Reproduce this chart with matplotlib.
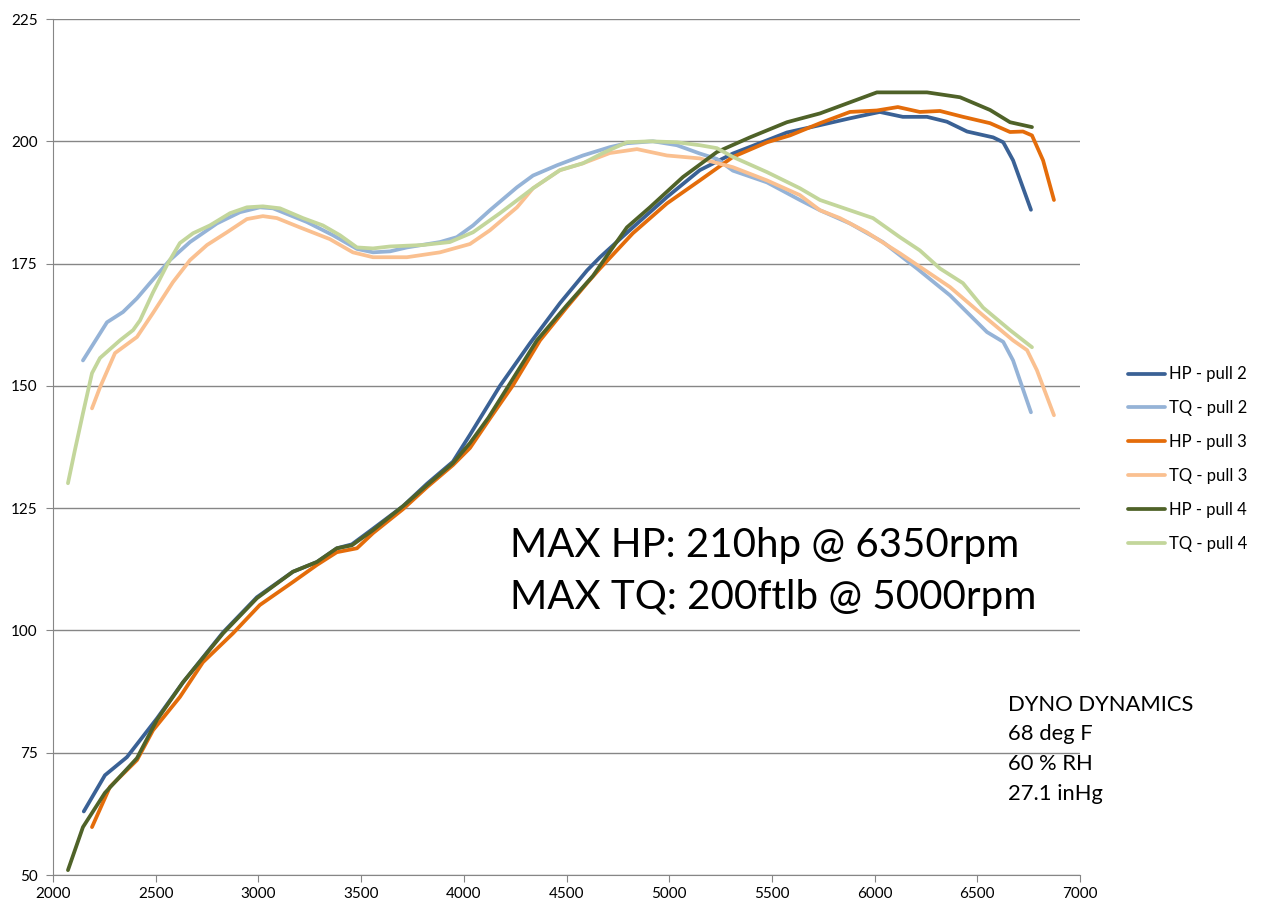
import numpy as np
import matplotlib.pyplot as plt

# =====================
# data

hp2_rpm = [2150, 2253, 2360, 2506, 2633, 2828, 2993, 3168, 3285, 3382, 3455, 3558, 3704, 3821,
           3947, 4030, 4176, 4322, 4468, 4600, 4663, 4823, 4989, 5149, 5310, 5476, 5573, 5734, 5880,
           6025, 6137, 6255, 6352, 6450, 6577, 6626, 6674, 6761]
hp2_val = [63, 70.4, 74.1, 82, 89.4, 99.6, 106.8, 112, 114, 116.8, 117.6, 120.8, 125.4, 130,
           134.5, 140, 150, 158.7, 166.9, 173.6, 176.3, 182.4, 188.6, 194.1, 197.5, 200.2, 201.8, 203.3, 204.7,
           206, 205, 205, 204, 202, 200.8, 199.8, 196.1, 186]

tq2_rpm = [2146, 2263, 2341, 2409, 2472, 2569, 2667, 2798, 2910, 3007, 3071, 3236, 3363, 3480,
           3558, 3641, 3723, 3884, 3966, 4045, 4127, 4259, 4337, 4454, 4580, 4711, 4794, 4921,
           5037, 5149, 5232, 5310, 5476, 5636, 5734, 5880, 6040, 6206, 6367, 6547, 6626,
           6674, 6761]
tq2_val = [155.2, 163, 165.1, 167.9, 171, 175.7, 179.4, 183.2, 185.5, 186.5, 186.3, 183.5, 180.8, 178,
           177.3, 177.5, 178.3, 179.4, 180.4, 182.8, 185.9, 190.6, 193, 195.1, 197.1, 198.8, 199.6, 200,
           199.2, 197.5, 196.4, 194, 191.6, 188, 185.9, 183.2, 179.4, 174, 168.5, 161, 159,
           155.2, 144.6]

hp3_rpm = [2190, 2277, 2409, 2487, 2618, 2730, 2876, 3007, 3168, 3285, 3382, 3480, 3558, 3704,
           3821, 3947, 4030, 4130, 4239, 4371, 4500, 4600, 4663, 4823, 4989, 5149, 5310, 5476, 5588,
           5734, 5880, 6011, 6113, 6220, 6318, 6430, 6562, 6659, 6722, 6766, 6820, 6873]
hp3_val = [59.8, 68, 73.5, 79.6, 86.4, 93.5, 99.4, 105.2, 109.9, 113.4, 116, 116.8, 119.9, 124.8,
           129.3, 133.8, 137.3, 143.5, 150.1, 159.3, 166, 171, 174, 181.2, 187.3, 192, 196.8, 199.8, 201.2,
           203.7, 206, 206.3, 207, 206, 206.2, 205, 203.7, 201.9, 202, 201.2, 196.1, 188]

tq3_rpm = [2190, 2229, 2302, 2341, 2409, 2487, 2584, 2667, 2750, 2847, 2944, 3022, 3090, 3202,
           3348, 3460, 3558, 3723, 3884, 4030, 4127, 4259, 4337, 4468, 4580, 4711, 4843, 4989,
           5149, 5310, 5476, 5636, 5734, 5831, 5962, 6123, 6367, 6528, 6674, 6742,
           6790, 6873]
tq3_val = [145.4, 149.7, 156.7, 157.9, 160, 164.9, 171.2, 175.7, 178.8, 181.4, 184.1, 184.7, 184.3, 182.4,
           180, 177.3, 176.3, 176.3, 177.3, 179, 181.8, 186.5, 190.4, 194.1, 195.5, 197.6, 198.4, 197.1,
           196.5, 194.7, 192, 189, 185.9, 184.3, 181.4, 177.1, 170.2, 164.4, 159.3, 157.3,
           153.2, 144]

hp4_rpm = [2073, 2146, 2253, 2409, 2506, 2633, 2828, 2993, 3168, 3285, 3382, 3455, 3558, 3704,
           3821, 3947, 4030, 4120, 4210, 4356, 4502, 4629, 4712, 4794, 4906, 5067, 5232, 5393, 5573,
           5734, 6011, 6123, 6255, 6416, 6562, 6659, 6766]
hp4_val = [51, 59.8, 66.8, 73.9, 81.7, 89.4, 99.4, 106.6, 112, 114, 116.8, 117.4, 120.5, 125.4,
           129.7, 134.2, 138.3, 143.5, 149.5, 159.3, 166.5, 172.5, 177.5, 182.4, 186.5, 192.7, 197.8, 200.8, 203.9,
           205.7, 210, 210, 210, 209, 206.4, 203.9, 202.9]

tq4_rpm = [2073, 2107, 2146, 2190, 2229, 2326, 2390, 2424, 2487, 2555, 2618, 2682, 2764, 2862,
           2944, 3022, 3105, 3217, 3314, 3397, 3480, 3558, 3641, 3801, 3932, 4045, 4176, 4337,
           4468, 4580, 4677, 4794, 4906, 5037, 5149, 5232, 5310, 5476, 5636, 5734, 5880, 5992,
           6123, 6220, 6318, 6430, 6528, 6659, 6766]
tq4_val = [130.1, 136.9, 144.4, 152.6, 155.7, 159.3, 161.4, 163.4, 169.1, 174.7, 179.2, 181.2, 182.8, 185.3,
           186.5, 186.7, 186.3, 184.3, 182.8, 180.8, 178.3, 178.1, 178.5, 178.8, 179.4, 181.4, 185.3, 190.4,
           194.1, 195.5, 197.6, 199.8, 200, 199.8, 199.2, 198.6, 196.8, 193.7, 190.4, 188, 185.9, 184.3,
           180.4, 177.7, 174, 171, 166, 161.4, 157.9]

series = [
    ('HP - pull 2', hp2_rpm, hp2_val, '#3A6195'),
    ('TQ - pull 2', tq2_rpm, tq2_val, '#95B3D7'),
    ('HP - pull 3', hp3_rpm, hp3_val, '#E46C0A'),
    ('TQ - pull 3', tq3_rpm, tq3_val, '#FAC090'),
    ('HP - pull 4', hp4_rpm, hp4_val, '#4F6228'),
    ('TQ - pull 4', tq4_rpm, tq4_val, '#C3D69B'),
]

notes = ['DYNO DYNAMICS', '68 deg F', '60 % RH', '27.1 inHg']
max_lines = ['MAX HP: 210hp @ 6350rpm', 'MAX TQ: 200ftlb @ 5000rpm']

# =====================
# plot
plt.rcParams['font.family'] = ['Lato', 'DejaVu Sans']
fig = plt.figure(figsize=(12.61, 9.18), dpi=100)
ax = fig.add_axes([0.042, 0.0468, 0.8145, 0.9325])

for name, x, y, c in series:
    ax.plot(x, y, color=c, lw=2.7, label=name, solid_joinstyle='round', solid_capstyle='round')

ax.set_xlim(2000, 7000)
ax.set_ylim(50, 225)
ax.set_xticks(np.arange(2000, 7001, 500))
ax.set_yticks(np.arange(50, 226, 25))
ax.grid(axis='y', color='#868686', lw=1)
ax.set_axisbelow(True)
for s in ['top', 'right']:
    ax.spines[s].set_visible(False)
for s in ['left', 'bottom']:
    ax.spines[s].set_color('#868686')
ax.tick_params(axis='both', colors='#868686', labelcolor='#000000', labelsize=11, length=5)
ax.tick_params(axis='y', pad=6)

fig.text(510 / 1261, 1 - 545 / 918, max_lines[0], fontsize=29, va='center', ha='left')
fig.text(510 / 1261, 1 - 597 / 918, max_lines[1], fontsize=29, va='center', ha='left')

for i, t in enumerate(notes):
    fig.text(1008 / 1261, 1 - (705 + i * 29.5) / 918, t, fontsize=15.8, va='center', ha='left')

fig.legend(loc='center left', bbox_to_anchor=(1113 / 1261, 1 - 459 / 918), frameon=False,
           fontsize=12, handlelength=2.2, labelspacing=1.07, handletextpad=0.25)

plt.savefig('out.png')
